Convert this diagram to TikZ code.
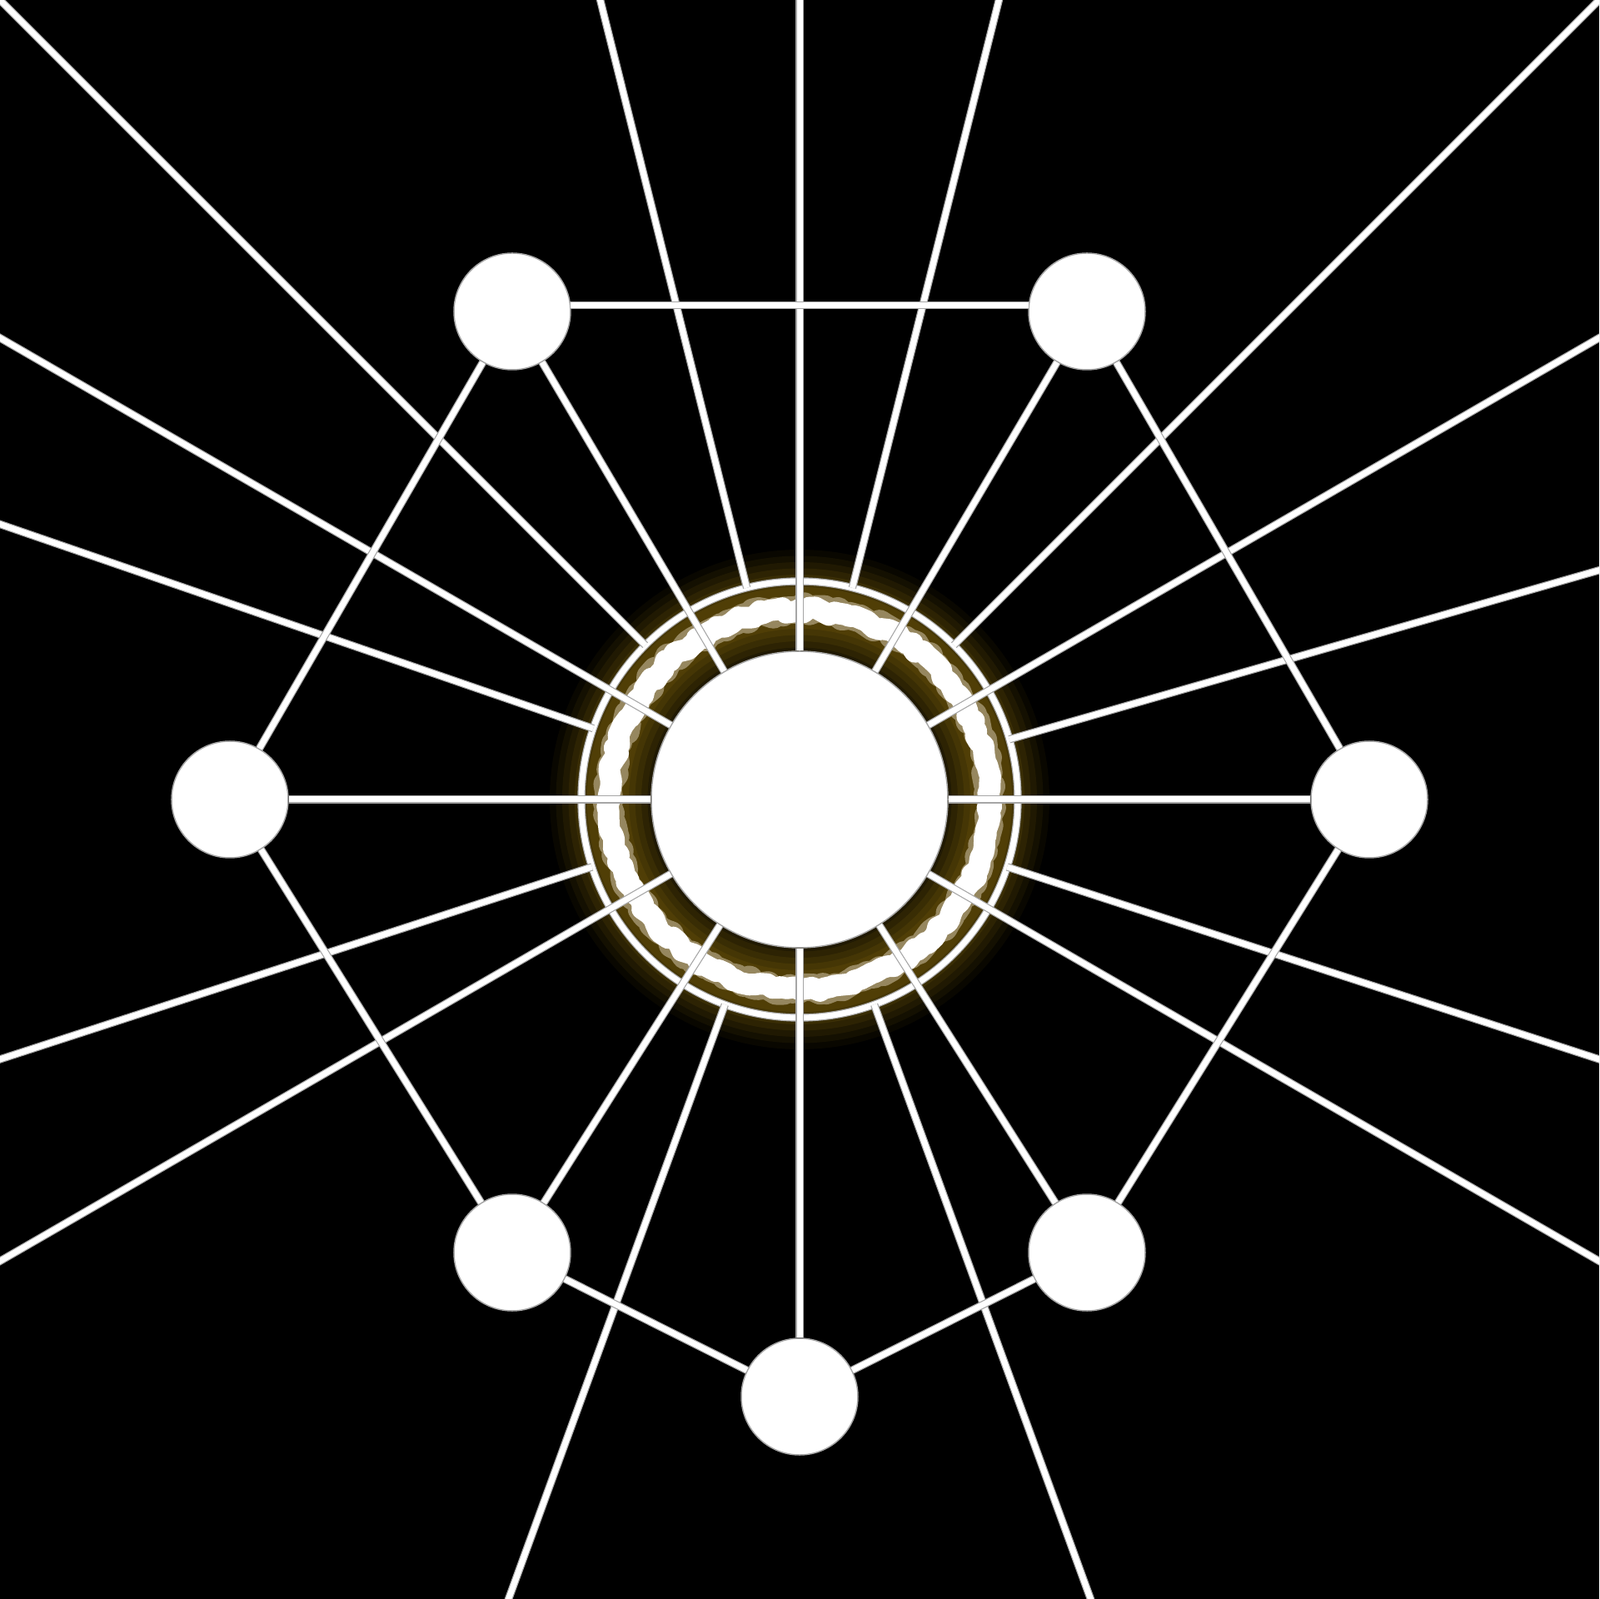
\documentclass[tikz,border=0pt]{standalone}
\usepackage{tikz}
\usetikzlibrary{decorations.pathmorphing}
\definecolor{glow}{RGB}{125,98,12}
\definecolor{speck}{RGB}{150,135,95}

\begin{document}
\begin{tikzpicture}[wire/.style={draw=gray!70,double=white,double distance=0.07cm,line width=0.012cm},
  sat/.style={circle,fill=white,draw=gray!70,line width=0.015cm,minimum size=1.4cm,inner sep=0pt}]
\useasboundingbox (-9.6,-9.6) rectangle (9.6,9.6);
\fill[black] (-9.6,-9.6) rectangle (9.6,9.6);
\clip (-9.6,-9.6) rectangle (9.6,9.6);
% glow round the hub
\draw[glow,line width=1.4cm,opacity=0.08] (0,0) circle (2.3);
\draw[glow,line width=1.25cm,opacity=0.1] (0,0) circle (2.3);
\draw[glow,line width=1.1cm,opacity=0.12] (0,0) circle (2.3);
\draw[glow,line width=0.95cm,opacity=0.14] (0,0) circle (2.3);
\draw[glow,line width=0.8cm,opacity=0.16] (0,0) circle (2.3);
\draw[glow,line width=0.65cm,opacity=0.18] (0,0) circle (2.3);
\draw[glow,line width=0.5cm,opacity=0.2] (0,0) circle (2.3);
\draw[speck,line width=0.33cm,line join=round,decorate,decoration={random steps,segment length=2pt,amplitude=1.2pt}] (0,0) circle (2.28);
\draw[white,line width=0.26cm,line join=round,decorate,decoration={random steps,segment length=2pt,amplitude=1pt}] (0,0) circle (2.28);
% ring and hub
\node[wire,circle,minimum size=5.24cm,inner sep=0pt,outer sep=0pt] (ring) at (0,0) {};
\node[circle,fill=white,draw=gray!70,line width=0.015cm,minimum size=3.56cm,inner sep=0pt] (hub) at (0,0) {};
% satellites
\node[sat] (tl) at (-3.45,5.86) {};
\node[sat] (tr) at (3.45,5.86) {};
\node[sat] (l) at (-6.84,0) {};
\node[sat] (r) at (6.84,0) {};
\node[sat] (bl) at (-3.45,-5.44) {};
\node[sat] (br) at (3.45,-5.44) {};
\node[sat] (b) at (0,-7.17) {};
% far ends, outside the frame
\coordinate (e30) at (30:14);
\coordinate (e90) at (90:14);
\coordinate (e150) at (150:14);
\coordinate (e210) at (210:14);
\coordinate (e330) at (330:14);
\coordinate (o16) at (16:14);
\coordinate (o45) at (45:14);
\coordinate (o76) at (76:14);
\coordinate (o104) at (104:14);
\coordinate (o135) at (135:14);
\coordinate (o161) at (161:14);
\coordinate (o198) at (198:14);
\coordinate (o250) at (250:14);
\coordinate (o290) at (290:14);
\coordinate (o342) at (342:14);
% rays from the ring
\draw[wire] (ring.16) -- (o16);
\draw[wire] (ring.45) -- (o45);
\draw[wire] (ring.76) -- (o76);
\draw[wire] (ring.104) -- (o104);
\draw[wire] (ring.135) -- (o135);
\draw[wire] (ring.161) -- (o161);
\draw[wire] (ring.198) -- (o198);
\draw[wire] (ring.250) -- (o250);
\draw[wire] (ring.290) -- (o290);
\draw[wire] (ring.342) -- (o342);
% spokes from the hub
\draw[wire] (hub) -- (e30);
\draw[wire] (hub) -- (e90);
\draw[wire] (hub) -- (e150);
\draw[wire] (hub) -- (e210);
\draw[wire] (hub) -- (e330);
\draw[wire] (hub) -- (tl);
\draw[wire] (hub) -- (tr);
\draw[wire] (hub) -- (l);
\draw[wire] (hub) -- (r);
\draw[wire] (hub) -- (bl);
\draw[wire] (hub) -- (br);
\draw[wire] (hub) -- (b);
% outer chain
\draw[wire] (tl.6) -- (tr.174);
\draw[wire] (tl) -- (l);
\draw[wire] (l) -- (bl);
\draw[wire] (bl) -- (b);
\draw[wire] (b) -- (br);
\draw[wire] (br) -- (r);
\draw[wire] (r) -- (tr);
\end{tikzpicture}
\end{document}
